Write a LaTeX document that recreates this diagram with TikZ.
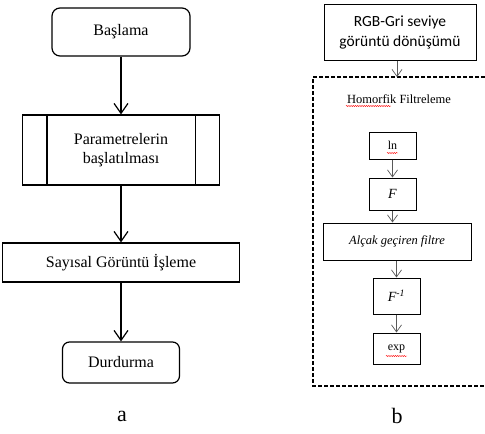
\documentclass[tikz,border=0pt]{standalone}
\usepackage{fontspec}
\setmainfont{Liberation Serif}
\newfontfamily\calib{Carlito}
\usetikzlibrary{arrows.meta,decorations.pathmorphing}
\tikzset{
  bigbox/.style={draw,line width=1.2pt,inner sep=0pt,align=center,font=\fontsize{16}{19}\selectfont},
  smallbox/.style={draw,line width=1pt,inner sep=0pt,align=center,font=\fontsize{12}{14}\selectfont},
  bigarrow/.style={line width=1.2pt,-{Straight Barb[length=10pt,width=14pt,line width=1.2pt]}},
  thinarrow/.style={draw=black!65,line width=0.7pt,-{Straight Barb[length=7pt,width=10pt,line width=0.7pt]}},
  spell/.style={draw=red,line width=0.4pt,decorate,decoration={snake,amplitude=0.6pt,segment length=2.2pt}}
}
\begin{document}
\begin{tikzpicture}[x=1pt,y=-1pt]
\useasboundingbox (0,0) rectangle (485,434);
% left flowchart
\node[bigbox,rounded corners=8pt,minimum width=138pt,minimum height=48pt] (bas) at (121,32) {Başlama};
\node[bigbox,minimum width=197pt,minimum height=70pt] (par) at (121,150) {Parametrelerin\\başlatılması};
\draw[line width=1.2pt] ([xshift=25pt]par.north west) -- ([xshift=25pt]par.south west);
\draw[line width=1.2pt] ([xshift=-25pt]par.north east) -- ([xshift=-25pt]par.south east);
\node[bigbox,minimum width=237pt,minimum height=39pt] (say) at (121,262.5) {Sayısal Görüntü İşleme};
\node[bigbox,rounded corners=7pt,minimum width=117pt,minimum height=41pt] (dur) at (121,362.5) {Durdurma};
\draw[bigarrow] (bas.south) -- (par.north);
\draw[bigarrow] (par.south) -- (say.north);
\draw[bigarrow] (say.south) -- (dur.north);
\node[font=\fontsize{22}{25}\selectfont] (la) at (122,416) {a};
% right flowchart
\node[draw,line width=1pt,inner sep=0pt,align=center,minimum width=152pt,minimum height=56pt,font=\calib\fontsize{15.5}{20}\selectfont] (rgb) at (400,32) {RGB-Gri seviye\\görüntü dönüşümü};
\coordinate (dtop) at (397,77);
\draw[line width=1.1pt,dash pattern=on 4pt off 2pt] (485,77) -- (313,77) -- (313,386) -- (485,386);
\draw[thinarrow] (rgb.south -| dtop) -- (dtop);
\node[font=\fontsize{12.5}{15}\selectfont] (hom) at (399,99) {Homorfik Filtreleme};
\node[smallbox,minimum width=47pt,minimum height=27pt,font=\fontsize{12}{14}\selectfont] (ln) at (392.5,145.5) {ln};
\node[smallbox,minimum width=47pt,minimum height=32pt,font=\itshape\fontsize{14}{16}\selectfont] (f) at (392.5,194) {F};
\node[smallbox,minimum width=148pt,minimum height=37pt,font=\itshape\fontsize{12.5}{15}\selectfont] (alc) at (397,241.5) {Alçak geçiren filtre};
\node[smallbox,minimum width=47pt,minimum height=36pt,font=\itshape\fontsize{14}{16}\selectfont] (finv) at (396.5,296) {F\textsuperscript{-1}};
\node[smallbox,minimum width=47pt,minimum height=31pt,font=\fontsize{12}{14}\selectfont] (exp) at (396.5,348.5) {exp};
\draw[thinarrow] (ln.south) -- (f.north);
\draw[thinarrow] (f.south) -- (f.south |- alc.north);
\draw[thinarrow] (finv.north |- alc.south) -- (finv.north);
\draw[thinarrow] (finv.south) -- (exp.north);
\node[font=\fontsize{22}{25}\selectfont] (lb) at (397,416) {b};
% spell-check underlines
\draw[spell] (346,106) -- (391,106);
\draw[spell] (387,153) -- (398,153);
\draw[spell] (386,356) -- (407,356);
\end{tikzpicture}
\end{document}
